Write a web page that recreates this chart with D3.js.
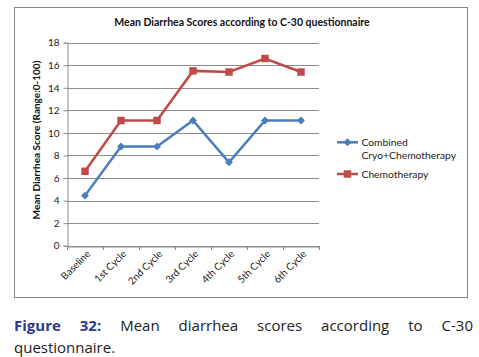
<!DOCTYPE html>
<html><head><meta charset="utf-8">
<script src="https://cdn.jsdelivr.net/npm/d3@7"></script>
<style>body{margin:0;background:#fff}svg{display:block}</style>
</head><body>
<svg id="c" width="479" height="357"></svg>
<script>
const categories = ["Baseline","1st Cycle","2nd Cycle","3rd Cycle","4th Cycle","5th Cycle","6th Cycle"];
const combined = [4.44, 8.8, 8.8, 11.1, 7.4, 11.1, 11.1];
const chemo = [6.6, 11.1, 11.1, 15.5, 15.4, 16.6, 15.4];
const seriesNames = ["Combined\nCryo+Chemotherapy", "Chemotherapy"];
const yTicks = [0,2,4,6,8,10,12,14,16,18];
const title = "Mean Diarrhea Scores according to C-30 questionnaire";
const yLabel = "Mean Diarrhea Score (Range:0-100)";
const captionBold = "Figure 32:";
const captionText = "Mean diarrhea scores according to C-30 questionnaire.";

const svg = d3.select("#c");
const chartFont = "Lato, 'Open Sans', sans-serif";
svg.append("rect").attr("x",14.5).attr("y",7.5).attr("width",453).attr("height",290)
  .attr("fill","#fff").attr("stroke","#868686").attr("stroke-width",1);

const x = d3.scaleBand().domain(categories).range([67,319]);
const y = d3.scaleLinear().domain([0,18]).range([245.7,42.7]);

svg.append("g").selectAll("line").data(yTicks).join("line")
  .attr("x1",67).attr("x2",319)
  .attr("y1",d=>Math.round(y(d))+0.5).attr("y2",d=>Math.round(y(d))+0.5)
  .attr("stroke","#8c8c8c").attr("stroke-width",1);
const yAxis = svg.append("g").attr("transform","translate(67.5,0)")
  .call(d3.axisLeft(y).tickValues(yTicks).tickSize(4).tickPadding(4));
yAxis.select(".domain").attr("stroke","#8c8c8c");
yAxis.selectAll(".tick line").attr("stroke","#8c8c8c");
yAxis.selectAll("text").attr("font-family",chartFont).attr("font-size",10).attr("fill","#222");
const xAxis = svg.append("g").attr("transform","translate(0,"+(Math.round(y(0))+0.5)+")")
  .call(d3.axisBottom(x).tickSize(0).tickPadding(0));
xAxis.select(".domain").attr("stroke","#8c8c8c");
xAxis.selectAll(".tick").each(function(){
  d3.select(this).select("text")
    .attr("font-family",chartFont).attr("font-size",10).attr("fill","#222")
    .attr("text-anchor","end").attr("dy",null).attr("y",null)
    .attr("transform","translate(6,8) rotate(-45)");
});
svg.append("g").selectAll("line").data(d3.range(categories.length+1)).join("line")
  .attr("x1",i=>Math.round(67+i*x.step())+0.5).attr("x2",i=>Math.round(67+i*x.step())+0.5)
  .attr("y1",Math.round(y(0))).attr("y2",Math.round(y(0))+4).attr("stroke","#8c8c8c");

const cx = d => x(d)+x.bandwidth()/2;
const line = d3.line().x((d,i)=>cx(categories[i])).y(d=>y(d));
const blue = "#4a7ebb", red = "#be4b48";
svg.append("path").datum(combined).attr("d",line).attr("fill","none").attr("stroke",blue).attr("stroke-width",2.5);
svg.append("path").datum(chemo).attr("d",line).attr("fill","none").attr("stroke",red).attr("stroke-width",2.5);
const diamond = d3.symbol().type(d3.symbolDiamond2).size(40);
const square = d3.symbol().type(d3.symbolSquare).size(56);
svg.append("g").selectAll("path").data(combined).join("path")
  .attr("d",diamond).attr("fill",blue)
  .attr("transform",(d,i)=>`translate(${cx(categories[i])},${y(d)})`);
svg.append("g").selectAll("path").data(chemo).join("path")
  .attr("d",square).attr("fill",red)
  .attr("transform",(d,i)=>`translate(${cx(categories[i])},${y(d)})`);

svg.append("text").attr("x",242).attr("y",26).attr("text-anchor","middle")
  .attr("font-family",chartFont).attr("font-weight","bold").attr("font-size",10.5).attr("fill","#111").text(title);
svg.append("text").attr("transform","translate(40,140) rotate(-90)").attr("text-anchor","middle")
  .attr("font-family",chartFont).attr("font-weight","bold").attr("font-size",10).attr("fill","#111").text(yLabel);

const leg = [{name:seriesNames[0],color:blue,sym:diamond,y:142.3},{name:seriesNames[1],color:red,sym:square,y:174}];
leg.forEach(l=>{
  svg.append("line").attr("x1",337).attr("x2",358).attr("y1",l.y).attr("y2",l.y).attr("stroke",l.color).attr("stroke-width",2.5);
  svg.append("path").attr("d",l.sym).attr("fill",l.color).attr("transform",`translate(347.5,${l.y})`);
  const t = svg.append("text").attr("x",361.5).attr("y",l.y+3.5).attr("font-family",chartFont).attr("font-size",10.3).attr("fill","#222");
  l.name.split("\n").forEach((s,i)=>t.append("tspan").attr("x",361.5).attr("dy",i?13.4:0).text(s));
});

// caption, justified first line
const capFont = "'Open Sans', sans-serif";
const words = captionBold.split(" ").map(t=>({t,b:true})).concat(captionText.split(" ").map(t=>({t,b:false})));
const line1 = words.slice(0,8), line2 = words.slice(8);
const capG = svg.append("g");
const fs = 15;
const nodes = line1.map(w=>capG.append("text").attr("y",331).attr("font-family",capFont).attr("font-size",fs)
  .attr("font-weight",w.b?"bold":"normal").attr("fill",w.b?"#2a3a8c":"#222").text(w.t));
const widths = nodes.map(n=>n.node().getComputedTextLength());
const total = d3.sum(widths), left=14, right=473;
const gap = (right-left-total)/(nodes.length-1);
let xp = left;
nodes.forEach((n,i)=>{ n.attr("x",xp); xp += widths[i]+gap; });
capG.append("text").attr("x",left).attr("y",353).attr("font-family",capFont).attr("font-size",fs).attr("fill","#222")
  .text(line2.map(w=>w.t).join(" "));
</script>
</body></html>
